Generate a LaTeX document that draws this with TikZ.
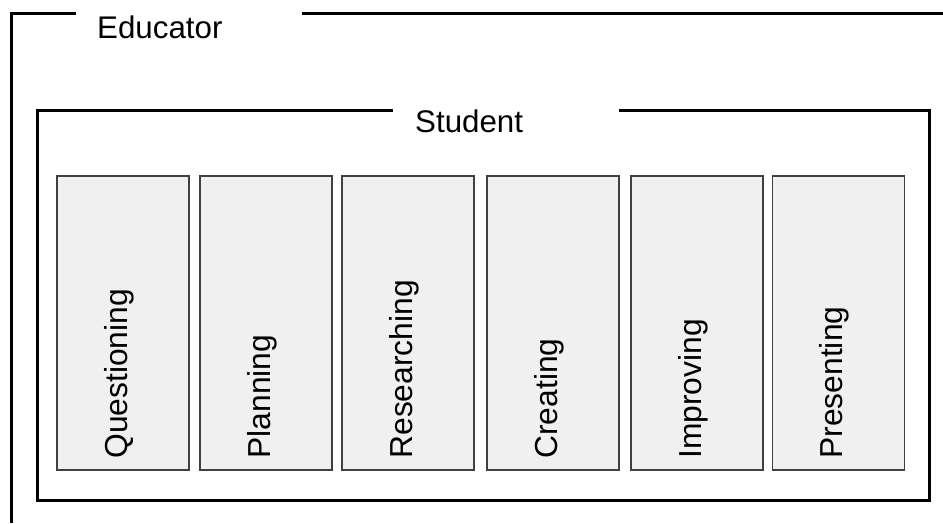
\documentclass[tikz,border=0pt]{standalone}
\usepackage{fontspec}
\setmainfont{Liberation Sans}
\begin{document}
\begin{tikzpicture}[x=1pt,y=-1pt,
  frameline/.style={line width=3pt,black},
  stage/.style={draw=black!75,fill=black!6,line width=1.6pt,rectangle,inner sep=0pt,
    minimum width=132pt,minimum height=294pt},
  stagelabel/.style={rotate=90,anchor=base west,inner sep=0pt,xshift=12pt,yshift=-4pt,
    font=\fontsize{31.8}{38}\selectfont},
  title/.style={anchor=base west,inner sep=0pt,font=\fontsize{31.3}{38}\selectfont}]
\useasboundingbox (0,0) rectangle (943,523);
% outer frame (Educator), open at the title
\draw[frameline] (76,13.5) -- (11,13.5) -- (11,523);
\draw[frameline] (302,13.5) -- (943,13.5);
\node[title] (educator) at (97,38) {Educator};
% inner frame (Student), open at the title
\draw[frameline] (393,110) -- (37,110) -- (37,500) -- (929,500) -- (929,110) -- (619,110);
\node[title] (student) at (415,132) {Student};
% stages
\node[stage] (s1) at (123,323) {};
\node[stage] (s2) at (266,323) {};
\node[stage] (s3) at (408,323) {};
\node[stage] (s4) at (553,323) {};
\node[stage] (s5) at (697,323) {};
\node[stage] (s6) at (838.5,323) {};
\node[stagelabel] (l1) at (s1.south) {Questioning};
\node[stagelabel] (l2) at (s2.south) {Planning};
\node[stagelabel] (l3) at (s3.south) {Researching};
\node[stagelabel] (l4) at (s4.south) {Creating};
\node[stagelabel] (l5) at (s5.south) {Improving};
\node[stagelabel] (l6) at (s6.south) {Presenting};
\end{tikzpicture}
\end{document}
